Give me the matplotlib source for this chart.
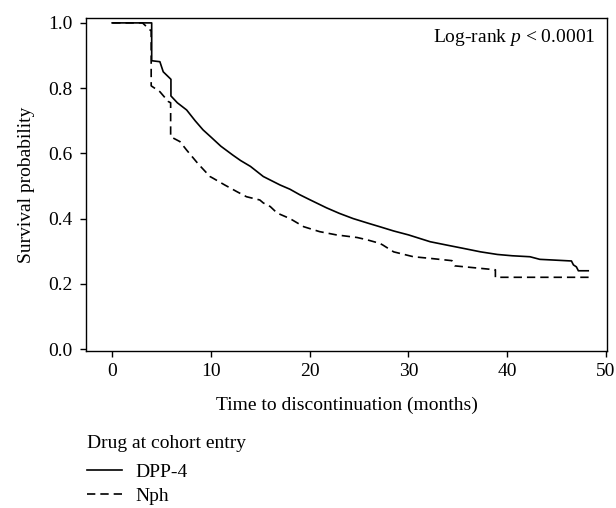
import matplotlib
matplotlib.use("Agg")
import matplotlib.pyplot as plt
from matplotlib.lines import Line2D

plt.rcParams['font.family'] = ['Liberation Serif', 'DejaVu Serif']
plt.rcParams['font.size'] = 14
plt.rcParams['mathtext.fontset'] = 'custom'
plt.rcParams['mathtext.it'] = 'Liberation Serif:italic'
plt.rcParams['mathtext.rm'] = 'Liberation Serif'

# --- curves (time in months, survival) ---
dpp4_time = [0, 4.0, 4.0, 4.83, 5.17, 5.85, 5.95, 5.95, 6.6, 7.54, 8.4, 9.2, 10, 11,
             12.2, 13, 14, 15.3, 17.0, 18, 19, 20, 21.7, 23, 24.4, 26, 27.1, 28.5,
             30, 32.2, 34, 35.5, 37.3, 39, 40.5, 42.3, 43.3, 44.6, 46.5, 46.7,
             47.0, 47.2, 48.2]
dpp4_surv = [1.0, 1.0, 0.884, 0.881, 0.85, 0.83, 0.827, 0.776, 0.755, 0.733, 0.70,
             0.672, 0.65, 0.622, 0.595, 0.578, 0.56, 0.529, 0.503, 0.49, 0.473,
             0.458, 0.433, 0.416, 0.40, 0.385, 0.375, 0.362, 0.35, 0.329, 0.318,
             0.309, 0.298, 0.29, 0.286, 0.283, 0.275, 0.273, 0.27, 0.258, 0.252,
             0.24, 0.24]

nph_time = [0, 3.07, 3.85, 3.95, 3.95, 4.83, 5.68, 5.92, 5.92, 6.86, 7.54, 8.7,
            9.9, 10.2, 11.4, 12.6, 13.6, 14.95, 15.3, 16.0, 16.7, 18.0, 19.4, 21.0,
            22.7, 24.8, 25.8, 27.1, 27.4, 28.5, 30.5, 32.2, 34.4, 34.7, 38.8, 38.8,
            48.3]
nph_surv = [1.0, 1.0, 0.978, 0.975, 0.807, 0.789, 0.759, 0.755, 0.651, 0.636, 0.61,
            0.568, 0.529, 0.524, 0.503, 0.483, 0.467, 0.457, 0.448, 0.437, 0.417,
            0.40, 0.375, 0.36, 0.35, 0.342, 0.335, 0.324, 0.319, 0.298, 0.283,
            0.278, 0.271, 0.255, 0.243, 0.22, 0.22]

group_labels = ['DPP-4', 'Nph']
legend_title = 'Drug at cohort entry'
x_ticks = [0, 10, 20, 30, 40, 50]
y_ticks = [0.0, 0.2, 0.4, 0.6, 0.8, 1.0]

fig = plt.figure(figsize=(6.16, 5.08), dpi=100)
ax = fig.add_axes([86 / 616, 1 - 351 / 508, 521 / 616, 333 / 508])

ax.plot(dpp4_time, dpp4_surv, color='black', lw=1.2)
ax.plot(nph_time, nph_surv, color='black', lw=1.2, dashes=(5, 3))

ax.set_xlim(-2.65, 50.1)
ax.set_ylim(-0.006, 1.015)
ax.set_xticks(x_ticks)
ax.set_yticks(y_ticks)
ax.set_yticklabels([f'{v:.1f}' for v in y_ticks])
ax.tick_params(axis='both', direction='out', length=4.5, width=1)
ax.tick_params(axis='x', pad=4.5)
ax.tick_params(axis='y', pad=5)
for s in ax.spines.values():
    s.set_linewidth(1)

ax.set_xlabel('Time to discontinuation (months)', labelpad=12)
ax.set_ylabel('Survival probability', labelpad=10)
ax.text(0.977, 0.94, r'Log-rank $p$ < 0.0001', transform=ax.transAxes,
        ha='right', va='center')

# legend block under the plot: title, then one line per group
fig.text(87 / 616, 1 - 444 / 508, legend_title, ha='left', va='center')
handles = [Line2D([], [], color='black', lw=1.2),
           Line2D([], [], color='black', lw=1.2, dashes=(5, 3))]
fig.legend(handles, group_labels, loc='upper left',
           bbox_to_anchor=(87 / 616, 1 - 463 / 508),
           frameon=False, handlelength=1.8, handletextpad=0.7,
           labelspacing=0.35, borderpad=0, borderaxespad=0)

fig.savefig('out.png', dpi=100)
